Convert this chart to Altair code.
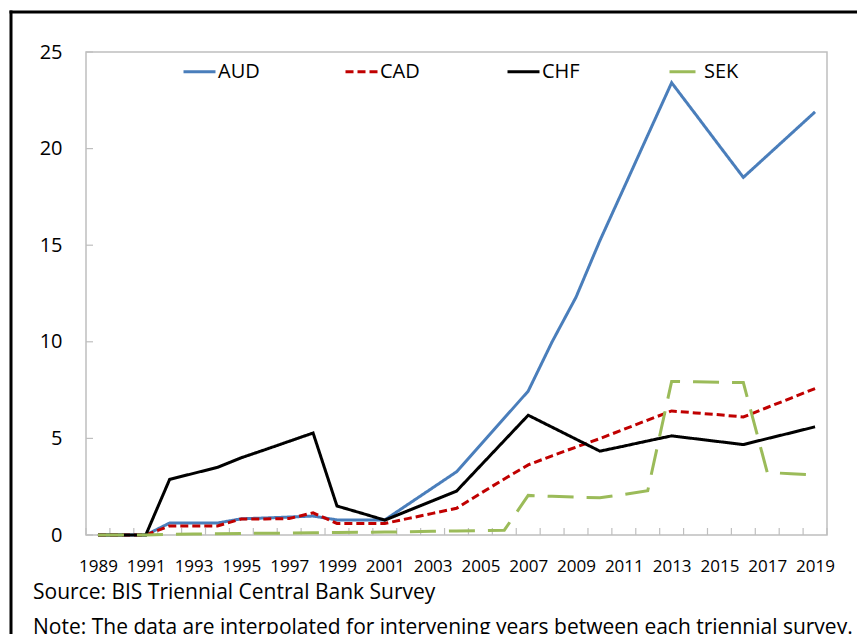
import altair as alt
import pandas as pd

years = list(range(1989, 2020))
label_years = list(range(1989, 2020, 2))
y_ticks = [0, 5, 10, 15, 20, 25]
names = ["AUD", "CAD", "CHF", "SEK"]
colors = ["#4A7EBB", "#C00000", "#000000", "#9BBB59"]
dashes = [[1, 0], [8, 4], [1, 0], [26, 13]]

aud = [0, 0, 0, 0.62, 0.62, 0.62, 0.84, 0.88, 0.93, 0.98, 0.78, 0.78, 0.78, 1.61, 2.44, 3.27,
       4.66, 6.05, 7.45, 10.0, 12.31, 15.24, 17.96, 20.69, 23.41, 21.78, 20.14, 18.51, 19.64, 20.77, 21.9]
cad = [0, 0, 0, 0.47, 0.47, 0.47, 0.83, 0.83, 0.85, 1.15, 0.6, 0.6, 0.6, 0.86, 1.12, 1.38,
       2.15, 2.9, 3.63, 4.1, 4.55, 4.99, 5.47, 5.95, 6.42, 6.32, 6.22, 6.11, 6.6, 7.09, 7.58]
chf = [0, 0, 0, 2.88, 3.19, 3.5, 4.0, 4.42, 4.85, 5.28, 1.5, 1.14, 0.77, 1.27, 1.77, 2.27,
       3.58, 4.89, 6.2, 5.58, 4.96, 4.34, 4.6, 4.87, 5.13, 4.98, 4.83, 4.68, 4.99, 5.29, 5.6]
sek = [0, 0, 0, 0.03, 0.05, 0.06, 0.08, 0.09, 0.1, 0.12, 0.13, 0.14, 0.15, 0.17, 0.19, 0.21,
       0.23, 0.25, 2.05, 2.0, 1.96, 1.93, 2.1, 2.29, 7.95, 7.93, 7.91, 7.89, 3.24, 3.17, 3.1]

footnotes = ["Source: BIS Triennial Central Bank Survey",
             "Note: The data are interpolated for intervening years between each triennial survey."]

FONT = "Open Sans"
W, H = 741, 483
GRAY = "#BFBFBF"

rows = []
for name, vals in zip(names, [aud, cad, chf, sek]):
    for yr, v in zip(years, vals):
        rows.append({"year": yr, "value": v, "series": name})
df = pd.DataFrame(rows)

bounds = pd.DataFrame({"b": [yr - 0.5 for yr in years] + [years[-1] + 0.5]})
yt = pd.DataFrame({"v": y_ticks})
one = pd.DataFrame({"a": [0]})

x_scale = alt.Scale(domain=[years[0] - 0.5, years[-1] + 0.5], nice=False, zero=False)
y_scale = alt.Scale(domain=[0, 25], nice=False)

lines = alt.Chart(df).mark_line(strokeWidth=3, strokeCap="butt").encode(
    x=alt.X("year:Q", scale=x_scale,
            axis=alt.Axis(values=label_years, format="d", title=None, ticks=False, tickSize=0,
                          domain=False, grid=False, labelPadding=23, labelFontSize=17,
                          labelFont=FONT, labelColor="black", labelOverlap=False)),
    y=alt.Y("value:Q", scale=y_scale,
            axis=alt.Axis(values=y_ticks, title=None, ticks=False, tickSize=0, domain=False,
                          grid=False, labelPadding=24, labelFontSize=20, labelFont=FONT,
                          labelColor="black")),
    color=alt.Color("series:N", scale=alt.Scale(domain=names, range=colors),
                    legend=alt.Legend(title=None)),
    strokeDash=alt.StrokeDash("series:N", scale=alt.Scale(domain=names, range=dashes),
                              legend=alt.Legend(title=None)),
)

xticks = alt.Chart(bounds).mark_rule(color=GRAY, strokeWidth=1.2).encode(
    x=alt.X("b:Q", scale=x_scale), y=alt.value(H - 7), y2=alt.value(H))
yticks = alt.Chart(yt).mark_rule(color=GRAY, strokeWidth=1.2).encode(
    y=alt.Y("v:Q", scale=y_scale), x=alt.value(0), x2=alt.value(7))

frame_top = alt.Chart(one).mark_rule(color="black", strokeWidth=3).encode(
    x=alt.value(-76.5), x2=alt.value(790), y=alt.value(-40))
frame_left = alt.Chart(one).mark_rule(color="black", strokeWidth=3).encode(
    x=alt.value(-75), y=alt.value(-41.5), y2=alt.value(640))

src = alt.Chart(pd.DataFrame({"t": [footnotes[0]]})).mark_text(
    align="left", baseline="alphabetic", font=FONT, fontSize=21, color="black").encode(
    text="t:N", x=alt.value(-53), y=alt.value(H + 64))
note = alt.Chart(pd.DataFrame({"t": [footnotes[1]]})).mark_text(
    align="left", baseline="alphabetic", font=FONT, fontSize=21, color="black").encode(
    text="t:N", x=alt.value(-53), y=alt.value(H + 99))

chart = alt.layer(frame_top, frame_left, xticks, yticks, lines, src, note).properties(
    width=W, height=H,
    padding={"left": 78, "top": 44, "right": 30, "bottom": 104},
    autosize=alt.AutoSizeParams(type="none"),
).configure_view(stroke=GRAY, strokeWidth=1.5).configure_legend(
    orient="none", legendX=96, legendY=2, direction="horizontal", columns=4,
    symbolType="stroke", symbolSize=1024, symbolStrokeWidth=3, labelFontSize=20,
    labelFont=FONT, labelColor="black", labelOffset=1, columnPadding=79, gridAlign="all",
)

chart.save("out.html", embed_options={"renderer": "svg", "actions": False})
